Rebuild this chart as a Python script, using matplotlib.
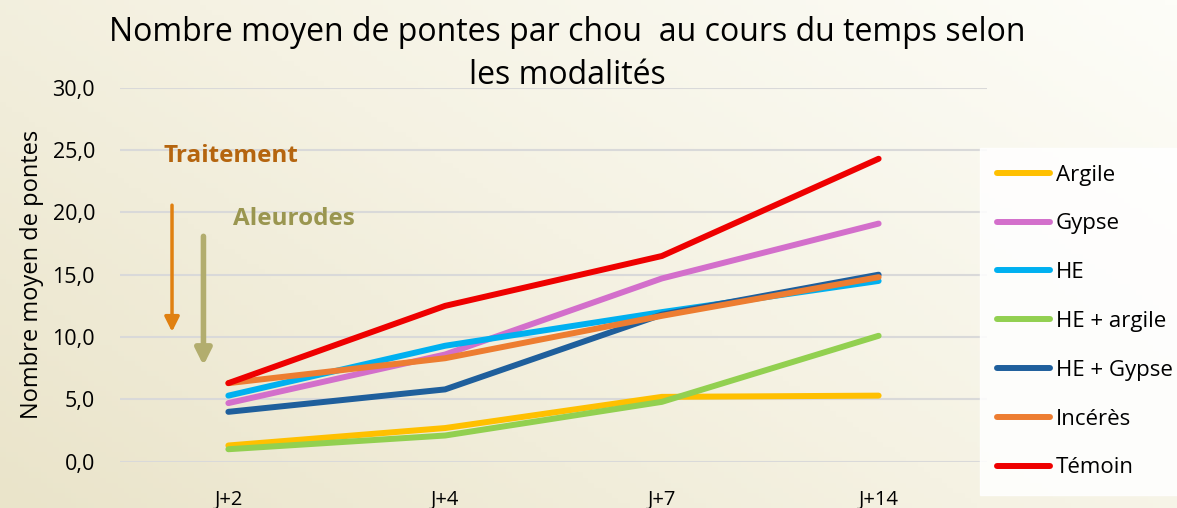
import numpy as np
import matplotlib
matplotlib.use('Agg')
import matplotlib.pyplot as plt
from matplotlib.colors import LinearSegmentedColormap

plt.rcParams['font.family'] = ['Open Sans', 'DejaVu Sans']

# Data
jours = ['J+2', 'J+4', 'J+7', 'J+14']
argile = [1.3, 2.7, 5.2, 5.3]
gypse = [4.7, 8.6, 14.7, 19.1]
he = [5.3, 9.3, 12.0, 14.5]
he_argile = [1.0, 2.1, 4.8, 10.1]
he_gypse = [4.0, 5.8, 11.8, 15.0]
inceres = [6.3, 8.3, 11.7, 14.8]
temoin = [6.3, 12.5, 16.5, 24.3]

series = [
    ('Argile', argile, '#FFC000'),
    ('Gypse', gypse, '#D36FCB'),
    ('HE', he, '#00B0F0'),
    ('HE + argile', he_argile, '#92D050'),
    ('HE + Gypse', he_gypse, '#1F5F9C'),
    ('Incérès', inceres, '#ED7D31'),
    ('Témoin', temoin, '#EE0000'),
]

fig = plt.figure(figsize=(11.77, 5.08), dpi=100)

# beige gradient background
bg = fig.add_axes([0, 0, 1, 1], zorder=-10)
gx, gy = np.meshgrid(np.linspace(0, 1, 200), np.linspace(0, 1, 100))
grad = 0.6 * gx + 0.4 * gy
cmap = LinearSegmentedColormap.from_list('beige', ['#eae4ca', '#f5f2e3', '#fdfdf8'])
bg.imshow(grad, cmap=cmap, aspect='auto', origin='lower', extent=[0, 1, 0, 1])
bg.axis('off')

ax = fig.add_axes([120 / 1177, 46.3 / 508, 867 / 1177, 374 / 508])
ax.patch.set_alpha(0)
x = np.arange(len(jours))
for name, vals, col in series:
    ax.plot(x, vals, color=col, lw=4.3, solid_capstyle='round', label=name, zorder=3)

ax.set_xlim(-0.5, 3.5)
ax.set_ylim(0, 30)
ax.set_yticks(np.arange(0, 31, 5))
ax.set_yticklabels([f'{v:.1f}'.replace('.', ',') for v in np.arange(0, 31, 5)], fontsize=15.5)
ax.set_xticks(x)
ax.set_xticklabels(jours, fontsize=14.5)
ax.tick_params(length=0, pad=18)
ax.tick_params(axis='x', pad=20)
ax.grid(axis='y', color='#d9d9d9', lw=1.5)
ax.set_axisbelow(True)
for s in ax.spines.values():
    s.set_visible(False)
ax.set_ylabel('Nombre moyen de pontes', fontsize=17, labelpad=6)

# annotations
ax.annotate('', xy=(-0.26, 10.2), xytext=(-0.26, 20.8),
            arrowprops=dict(arrowstyle='-|>', color='#E08010', lw=2.5, mutation_scale=22))
ax.annotate('', xy=(-0.115, 7.5), xytext=(-0.115, 18.3),
            arrowprops=dict(arrowstyle='-|>', color='#B2AD6E', lw=4, mutation_scale=24))
ax.text(-0.3, 24.5, 'Traitement', color='#B5650F', fontsize=17.5, fontweight='bold', va='center')
ax.text(0.02, 19.5, 'Aleurodes', color='#9A9650', fontsize=17.5, fontweight='bold', va='center')

fig.text(0.482, 0.968, 'Nombre moyen de pontes par chou  au cours du temps selon\nles modalités',
         ha='center', va='top', fontsize=23, linespacing=1.4)

leg = fig.legend(loc='upper left', bbox_to_anchor=(980 / 1177, 1 - 148 / 508), borderaxespad=0,
                 fontsize=16, handlelength=2.4, labelspacing=1.25, handletextpad=0.25,
                 frameon=True, fancybox=False, edgecolor='white', facecolor='white',
                 borderpad=0.75)
leg.get_frame().set_alpha(0.85)

fig.savefig('out.png', dpi=100)
